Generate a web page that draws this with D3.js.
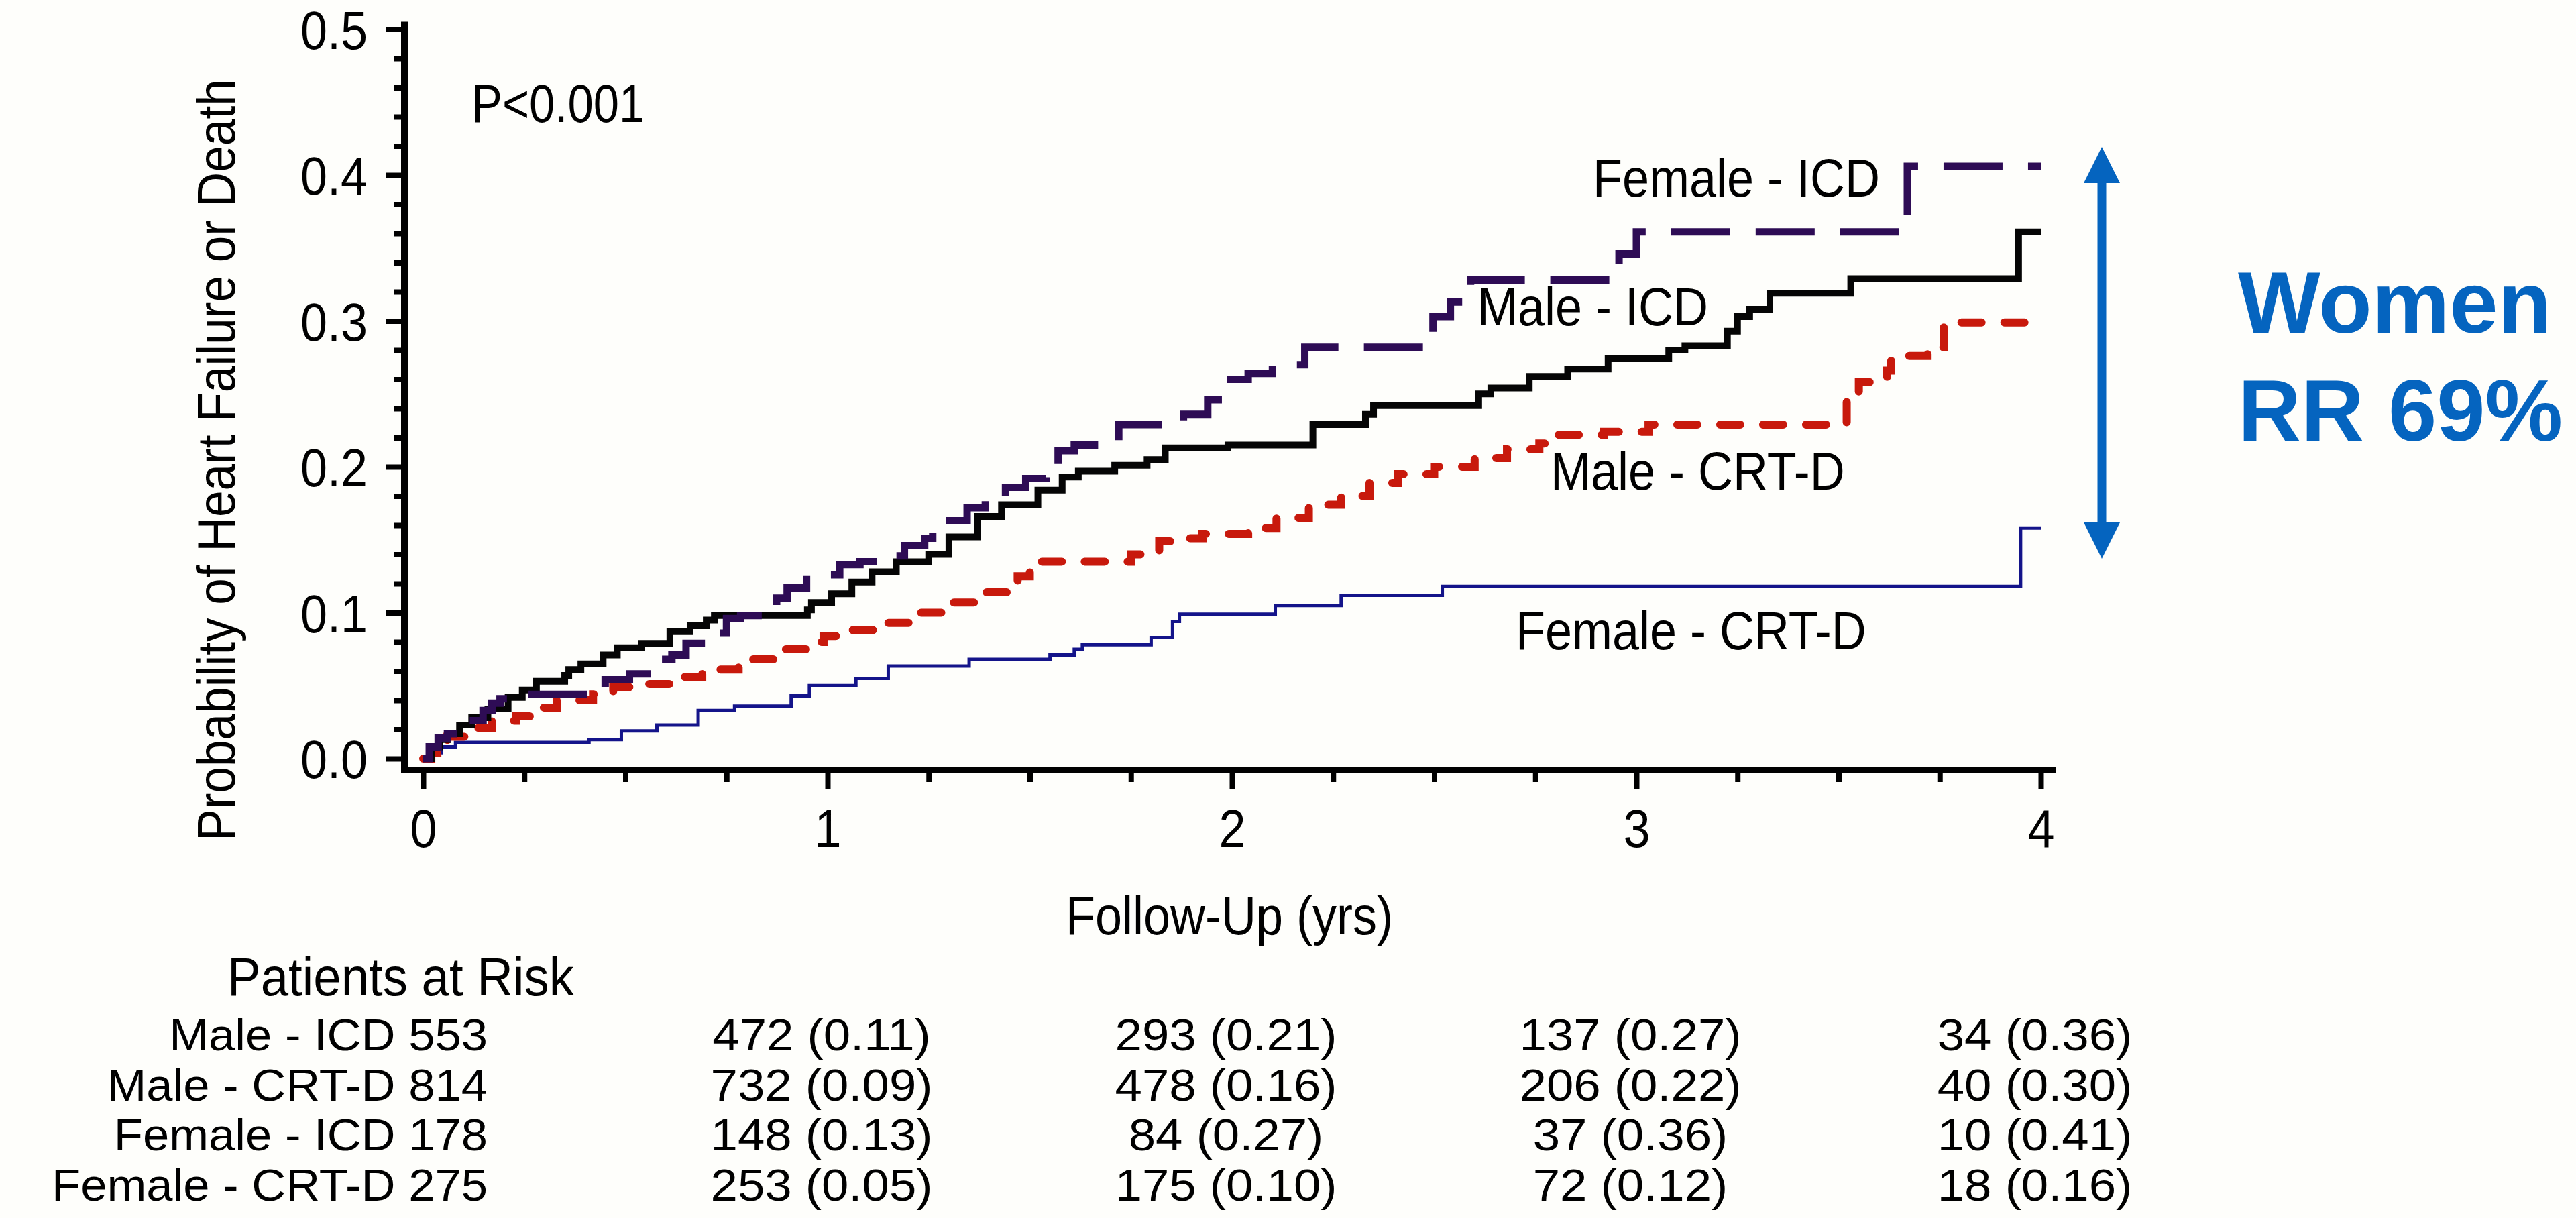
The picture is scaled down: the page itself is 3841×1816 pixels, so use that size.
<!DOCTYPE html>
<html>
<head>
<meta charset="utf-8">
<script src="https://cdn.jsdelivr.net/npm/d3@7"></script>
<style>
  html, body { margin: 0; padding: 0; background: #fefefb; }
  svg { display: block; }
  text { font-family: "Liberation Sans", Arial, Helvetica, sans-serif; fill: #000; }
</style>
</head>
<body>
<svg id="chart" width="3841" height="1816"></svg>
<script>
// ---------------- DATA ----------------
// Kaplan-Meier step points [years, cumulative probability]
const maleIcd = [[0,0],[0.02,0.008],[0.04,0.013],[0.06,0.017],[0.09,0.023],[0.12,0.028],[0.16,0.034],[0.21,0.042],[0.245,0.047],[0.28,0.053],[0.35,0.057],[0.36,0.061],[0.39,0.065],[0.445,0.071],[0.48,0.076],[0.54,0.079],[0.61,0.087],[0.66,0.091],[0.70,0.095],[0.72,0.098],[0.95,0.102],[0.96,0.107],[1.01,0.113],[1.06,0.121],[1.11,0.128],[1.17,0.135],[1.25,0.140],[1.30,0.152],[1.37,0.166],[1.43,0.174],[1.52,0.184],[1.58,0.193],[1.62,0.197],[1.71,0.201],[1.79,0.205],[1.835,0.213],[1.99,0.215],[2.20,0.229],[2.33,0.236],[2.35,0.242],[2.61,0.250],[2.64,0.254],[2.735,0.262],[2.83,0.267],[2.93,0.274],[3.08,0.280],[3.12,0.283],[3.225,0.293],[3.25,0.303],[3.28,0.308],[3.33,0.319],[3.53,0.329],[3.945,0.361],[4.0,0.361]];
const maleCrtd = [[0,0],[0.02,0.004],[0.035,0.009],[0.06,0.015],[0.12,0.021],[0.17,0.026],[0.23,0.029],[0.27,0.035],[0.33,0.040],[0.42,0.044],[0.47,0.049],[0.53,0.051],[0.615,0.056],[0.69,0.061],[0.78,0.068],[0.87,0.075],[0.955,0.080],[0.99,0.084],[1.06,0.088],[1.135,0.093],[1.22,0.100],[1.29,0.107],[1.39,0.114],[1.47,0.125],[1.50,0.135],[1.75,0.140],[1.82,0.149],[1.87,0.151],[1.927,0.154],[2.04,0.158],[2.11,0.165],[2.19,0.174],[2.27,0.180],[2.34,0.189],[2.41,0.195],[2.50,0.200],[2.60,0.206],[2.68,0.212],[2.76,0.216],[2.79,0.222],[2.92,0.224],[3.03,0.229],[3.52,0.248],[3.55,0.258],[3.62,0.266],[3.63,0.276],[3.72,0.282],[3.76,0.299],[4.0,0.299]];
const femaleIcd = [[0,0],[0.015,0.008],[0.037,0.014],[0.06,0.017],[0.104,0.026],[0.148,0.033],[0.17,0.038],[0.19,0.041],[0.245,0.044],[0.45,0.054],[0.51,0.058],[0.578,0.068],[0.615,0.071],[0.65,0.079],[0.71,0.086],[0.75,0.096],[0.785,0.098],[0.874,0.110],[0.90,0.117],[0.948,0.126],[1.03,0.133],[1.08,0.135],[1.135,0.139],[1.19,0.146],[1.24,0.151],[1.26,0.156],[1.29,0.163],[1.345,0.172],[1.39,0.178],[1.44,0.186],[1.49,0.192],[1.54,0.200],[1.57,0.211],[1.61,0.215],[1.72,0.229],[1.88,0.236],[1.94,0.246],[1.98,0.260],[2.04,0.264],[2.10,0.270],[2.18,0.282],[2.497,0.303],[2.54,0.313],[2.57,0.319],[2.59,0.328],[2.957,0.346],[3.0,0.361],[3.67,0.406],[4.0,0.406]];
const femaleCrtd = [[0,0],[0.02,0.004],[0.045,0.008],[0.08,0.011],[0.41,0.013],[0.49,0.019],[0.578,0.023],[0.68,0.033],[0.77,0.036],[0.91,0.043],[0.955,0.050],[1.07,0.055],[1.15,0.0635],[1.35,0.068],[1.55,0.071],[1.61,0.075],[1.63,0.078],[1.80,0.083],[1.853,0.094],[1.87,0.099],[2.107,0.105],[2.27,0.112],[2.52,0.118],[3.95,0.158],[4.0,0.158]];

const yMajorTicks = [0, 0.1, 0.2, 0.3, 0.4, 0.5];
const xMajorTicks = [0, 1, 2, 3, 4];
const curveLabels = ["Female - ICD", "Male - ICD", "Male - CRT-D", "Female - CRT-D"];
const riskRowLabels = ["Male - ICD 553", "Male - CRT-D 814", "Female - ICD 178", "Female - CRT-D 275"];
const riskTimes = [1, 2, 3, 4];
const riskN = [[472, 293, 137, 34], [732, 478, 206, 40], [148, 84, 37, 10], [253, 175, 72, 18]];
const riskP = [["0.11", "0.21", "0.27", "0.36"], ["0.09", "0.16", "0.22", "0.30"], ["0.13", "0.27", "0.36", "0.41"], ["0.05", "0.10", "0.12", "0.16"]];
const pValueText = "P<0.001";
const yTitle = "Probability of Heart Failure or Death";
const xTitle = "Follow-Up (yrs)";
const riskTitle = "Patients at Risk";
const noteLines = ["Women", "RR 69%"];

// ---------------- LAYOUT ----------------
const svg = d3.select("#chart");
svg.append("rect").attr("width", 3841).attr("height", 1816).attr("fill", "#fefefb");

const x = d3.scaleLinear().domain([0, 4]).range([631, 3043]);
const y = d3.scaleLinear().domain([0, 0.5]).range([1131, 43.5]);
const axisX0 = 603;   // y-axis line position
const axisY0 = 1148;  // x-axis line position
const FS = 80, SX = 0.9;
const TFS = 66;       // risk table font size

function label(px, py, s, anchor, size, sx, weight, color) {
  return svg.append("text")
    .attr("transform", `translate(${px},${py}) scale(${sx},1)`)
    .attr("text-anchor", anchor)
    .style("font-size", size + "px")
    .style("font-weight", weight || "normal")
    .style("fill", color || "#000")
    .text(s);
}

// ---------------- AXES ----------------
const yMinor = d3.range(0, 0.5001, 0.02).filter(v => Math.abs(v * 10 - Math.round(v * 10)) > 1e-6);
const xMinor = d3.range(0, 4.0001, 0.25).filter(v => Math.abs(v - Math.round(v)) > 1e-6);

const gyMinor = svg.append("g").attr("transform", `translate(${axisX0},0)`)
  .call(d3.axisLeft(y).tickValues(yMinor).tickSize(15).tickFormat(""));
const gy = svg.append("g").attr("transform", `translate(${axisX0},0)`)
  .call(d3.axisLeft(y).tickValues(yMajorTicks).tickSize(27).tickFormat(d3.format(".1f")));
const gxMinor = svg.append("g").attr("transform", `translate(0,${axisY0})`)
  .call(d3.axisBottom(x).tickValues(xMinor).tickSize(18).tickFormat(""));
const gx = svg.append("g").attr("transform", `translate(0,${axisY0})`)
  .call(d3.axisBottom(x).tickValues(xMajorTicks).tickSize(29).tickFormat(d3.format("d")));

[gyMinor, gy, gxMinor, gx].forEach(g => {
  g.select(".domain").remove();
  g.selectAll(".tick line").attr("stroke", "#000").attr("stroke-width", 8);
});
gy.selectAll(".tick text")
  .attr("x", null).attr("dy", "0.36em")
  .attr("transform", `translate(-55,0) scale(${SX},1)`)
  .attr("text-anchor", "end")
  .style("font-size", FS + "px").style("font-family", '"Liberation Sans", Arial, sans-serif');
gx.selectAll(".tick text")
  .attr("y", null).attr("dy", null)
  .attr("transform", `translate(0,115) scale(${SX},1)`)
  .attr("text-anchor", "middle")
  .style("font-size", FS + "px").style("font-family", '"Liberation Sans", Arial, sans-serif');

// axis lines
svg.append("line").attr("x1", axisX0).attr("x2", axisX0)
  .attr("y1", y(0.5) - 11).attr("y2", axisY0 + 5)
  .attr("stroke", "#000").attr("stroke-width", 10);
svg.append("line").attr("x1", axisX0 - 5).attr("x2", x(4) + 23)
  .attr("y1", axisY0).attr("y2", axisY0)
  .attr("stroke", "#000").attr("stroke-width", 10);

// ---------------- CURVES ----------------
const line = d3.line().x(d => x(d[0])).y(d => y(d[1])).curve(d3.curveStepAfter);
const series = [
  { data: femaleCrtd, color: "#14148a", width: 5, dash: null, cap: "butt" },
  { data: maleCrtd, color: "#c8190c", width: 12, dash: "30,34", cap: "round" },
  { data: maleIcd, color: "#050505", width: 10, dash: null, cap: "butt" },
  { data: femaleIcd, color: "#2e0c55", width: 11, dash: "88,38", cap: "butt" }
];
series.forEach(s => {
  svg.append("path").datum(s.data)
    .attr("d", line)
    .attr("fill", "none")
    .attr("stroke", s.color)
    .attr("stroke-width", s.width)
    .attr("stroke-linecap", s.cap)
    .attr("stroke-linejoin", "miter")
    .attr("stroke-dasharray", s.dash);
});

// ---------------- TEXT ----------------
label(703, 182, pValueText, "start", FS, 0.86);
label(2375, 293, curveLabels[0], "start", FS, SX);
label(2203, 485, curveLabels[1], "start", FS, SX);
label(2312, 730, curveLabels[2], "start", FS, SX);
label(2260, 968, curveLabels[3], "start", FS, SX);

// axis titles
svg.append("text")
  .attr("transform", `translate(350,686) rotate(-90) scale(0.89,1)`)
  .attr("text-anchor", "middle")
  .style("font-size", FS + "px")
  .text(yTitle);
label(x(2) - 4, 1393, xTitle, "middle", FS, SX);

// patients at risk table
label(856, 1484, riskTitle, "end", FS, 0.93);
riskRowLabels.forEach((r, i) => {
  const rowY = 1566 + i * 74.7;
  label(727, rowY, r, "end", TFS, 1.07);
  riskTimes.forEach((t, j) => {
    label(x(t) - 9, rowY, `${riskN[i][j]} (${riskP[i][j]})`, "middle", TFS, 1.1);
  });
});

// ---------------- ANNOTATION ----------------
const blue = "#0564bf";
const arrowX = 3134, arrowTop = 219, arrowBot = 833, head = 54, headW = 54;
svg.append("line").attr("x1", arrowX).attr("x2", arrowX)
  .attr("y1", arrowTop + head - 2).attr("y2", arrowBot - head + 2)
  .attr("stroke", blue).attr("stroke-width", 13);
svg.append("path")
  .attr("d", `M${arrowX},${arrowTop} L${arrowX + headW / 2},${arrowTop + head} L${arrowX - headW / 2},${arrowTop + head} Z`)
  .attr("fill", blue);
svg.append("path")
  .attr("d", `M${arrowX},${arrowBot} L${arrowX + headW / 2},${arrowBot - head} L${arrowX - headW / 2},${arrowBot - head} Z`)
  .attr("fill", blue);
label(3337, 496, noteLines[0], "start", 130, 1, "bold", blue);
label(3337, 657, noteLines[1], "start", 130, 1, "bold", blue);
</script>
</body>
</html>
